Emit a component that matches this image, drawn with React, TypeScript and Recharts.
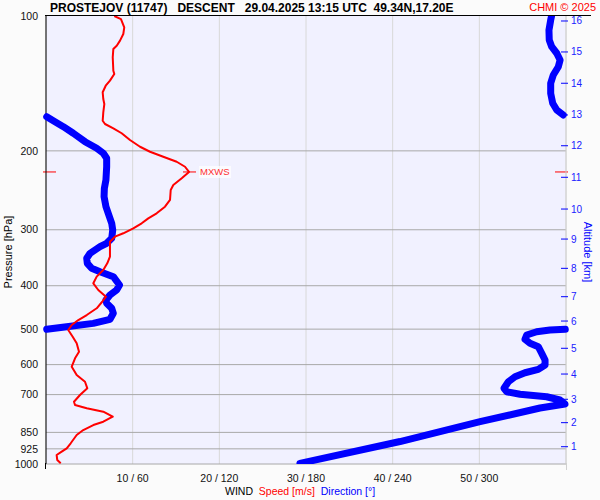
import React from "react";
import {
  CartesianGrid,
  ReferenceDot,
  ReferenceLine,
  Scatter,
  ScatterChart,
  XAxis,
  YAxis,
} from "recharts";

const FONT = '"Liberation Sans", Arial, sans-serif';
const TITLE = "PROSTEJOV (11747)   DESCENT   29.04.2025 13:15 UTC  49.34N,17.20E";

// pressure axis (hPa) and altitude axis (km at hPa)
const P_TICKS = [100, 200, 300, 400, 500, 600, 700, 850, 925, 1000];
const ALT_KM = [1, 2, 3, 4, 5, 6, 7, 8, 9, 10, 11, 12, 13, 14, 15, 16];
const ALT_P = [915, 808.6, 717, 629.8, 551.7, 479.6, 423.2, 365.8, 314.7, 269.7, 229.1, 194.8, 166.3, 141.3, 120.3, 102.6];

// speed / direction ticks
const X_TICKS = [10, 20, 30, 40, 50];
const X_LABELS = ["10 / 60", "20 / 120", "30 / 180", "40 / 240", "50 / 300"];

// wind speed profile, m/s
const SPEED_P = [
  100, 101.6, 106, 109.7, 113.5, 116.5, 118.5, 123.6, 132.5, 134.7, 139.4, 143.1, 148, 153.2, 157.2,
  164.1, 171.3, 174.2, 178.1, 182.7, 189.1, 195.8, 200.9, 206.1, 211.5, 217, 222.9, 230.2, 238.3,
  244.5, 257.4, 266.5, 275.7, 282.9, 290.2, 297.8, 305.5, 310.9, 319, 327.3, 344.5, 356.5, 368.9,
  381.8, 395.1, 408.9, 423.2, 434.9, 449.2, 465, 477.1, 489.5, 502.3, 519.9, 537.8, 561.5, 580.9,
  606.5, 633, 655.2, 677.8, 701.5, 726.1, 738.5, 751.1, 764.4, 784.3, 804.7, 818.5, 839.8, 861.6,
  899, 922.5, 938.7, 954.9, 979.7, 996.4,
];
const SPEED_V = [
  7.88, 8.65, 9.03, 8.92, 8.54, 8.16, 7.77, 7.7, 7.77, 7.88, 7.38, 6.89, 6.54, 6.61, 6.73,
  6.61, 6.54, 6.81, 7.77, 8.73, 9.69, 10.85, 12, 13.53, 15.08, 16.04, 16.5, 15.66, 14.69,
  14.39, 14.31, 13.73, 12.77, 11.8, 11.04, 10.07, 8.92, 7.96, 7.38, 7.38, 7.38, 7.07, 6.61,
  5.85, 5.46, 6.03, 6.92, 6.46, 5.85, 4.7, 3.73, 2.97, 2.57, 3.08, 3.54, 3.81, 3.35,
  2.97, 3.54, 4.5, 4.77, 3.92, 3.23, 3.35, 4.7, 6.61, 7.7, 6.61, 5.46, 4.3, 3.54,
  2.85, 2.39, 1.81, 1.23, 1.3, 1.7,
];

// wind direction, degrees; split where it wraps past 360
const DIR_LOW_P = [
  996.4, 891, 804.7, 749.9, 734.7, 719.7, 707.7, 698.9, 689.6, 677.6, 655.2, 638.6, 625.6, 614.8,
  601.3, 586.1, 566.2, 547.3, 537.8, 526.9, 515.3, 506.7, 502.3, 500.5,
];
const DIR_LOW_D = [
  175.8, 245.1, 300.5, 342, 359.3, 355.8, 346.6, 328.2, 318.9, 317.1, 320.1, 324.7, 331.6, 340.8,
  345.5, 345.5, 343.2, 340.8, 335.1, 331.6, 332.8, 339.7, 348.9, 359.5,
];
const DIR_MID_P = [
  500.5, 493.9, 485.4, 475.3, 460.9, 449.2, 437.8, 430.4, 419.5, 408.9, 398.5, 381.8, 372.2, 365.7,
  356.5, 347.4, 338.6, 327.3, 321.6, 313.5, 300.4, 290.2, 275.7, 266.5, 253.1, 242.5, 232.2, 217,
  207.8, 202.5, 197.4, 190.8, 182.7, 176.6, 172.2, 167.8,
];
const DIR_MID_D = [
  0.5, 14.3, 32.7, 44.3, 46.6, 45.5, 42, 41.5, 44.3, 48.9, 50.9, 46.6, 37.4, 31.6,
  28.6, 28.2, 30.5, 37.4, 42, 45.5, 46.2, 45.5, 43.1, 41.5, 40.2, 40.4, 41.5, 42,
  42, 39.7, 35.1, 27, 18.9, 12, 6.2, 0.5,
];
const DIR_TOP_P = [166.3, 162.1, 156.6, 148.8, 141.3, 135.4, 129.8, 125.4, 121.1, 117.1, 113.1, 107.5, 102.1, 100];
const DIR_TOP_D = [358.1, 353.6, 350.8, 349.4, 349.4, 351.2, 354.7, 355.9, 353.6, 350.1, 348.4, 348.2, 349.4, 350];

// maximum wind
const MXWS_P = 222.9;
const MXWS_V = 16.5;

const speedData = SPEED_P.map((p, i) => ({ p, v: SPEED_V[i] }));
const dirLow = DIR_LOW_P.map((p, i) => ({ p, d: DIR_LOW_D[i] }));
const dirMid = DIR_MID_P.map((p, i) => ({ p, d: DIR_MID_D[i] }));
const dirTop = DIR_TOP_P.map((p, i) => ({ p, d: DIR_TOP_D[i] }));

const noDot = () => null;

function AltTick(props: any) {
  const { x, y, payload } = props;
  const i = ALT_P.findIndex((p) => Math.abs(p - payload.value) < 0.01);
  return (
    <g>
      <line x1={x - 5} x2={x + 2} y1={y} y2={y} stroke="#0000ff" />
      <text x={x + 5} y={y} dy="0.35em" fill="#2020ff" fontSize={10} fontFamily={FONT}>
        {ALT_KM[i]}
      </text>
    </g>
  );
}

function MxwsEdges(props: any) {
  const { x1, x2, y1 } = props;
  return (
    <g>
      <line x1={x1 - 3} x2={x1 + 10} y1={y1} y2={y1} stroke="#ff0000" />
      <line x1={x2 - 11} x2={x2 + 2} y1={y1} y2={y1} stroke="#ff0000" />
    </g>
  );
}

function MxwsMark(props: any) {
  const { cx, cy } = props;
  return (
    <g>
      <line x1={cx - 6} x2={cx + 7} y1={cy} y2={cy} stroke="#ff0000" />
      <rect x={cx + 10} y={cy - 6} width={32} height={12} fill="#ffffff" opacity={0.7} />
      <text x={cx + 11} y={cy} dy="0.35em" fill="#ff3030" fontSize={9.5} fontFamily={FONT}>
        MXWS
      </text>
    </g>
  );
}

export default function App() {
  const blue = { stroke: "#0000ff", strokeWidth: 7, strokeLinecap: "round", strokeLinejoin: "round" } as any;
  return (
    <div
      style={{
        position: "absolute",
        left: 0,
        top: 0,
        width: 600,
        height: 500,
        background: "#fbfbfb",
        fontFamily: FONT,
      }}
    >
      <ScatterChart width={600} height={500} margin={{ top: 16, right: 0, bottom: 0, left: 0 }}>
        <CartesianGrid
          xAxisId="spd"
          yAxisId="p"
          horizontal={false}
          stroke="#d8d8d8"
          fill="#f1f1ff"
          fillOpacity={1}
        />
        <XAxis
          xAxisId="spd"
          type="number"
          dataKey="v"
          domain={[0, 60]}
          ticks={X_TICKS}
          interval={0}
          tickFormatter={(v) => X_LABELS[X_TICKS.indexOf(v)]}
          height={36}
          axisLine={false}
          tickLine={false}
          tickMargin={5}
          tick={{ fill: "#111", fontSize: 10.5, fontFamily: FONT }}
        />
        <XAxis xAxisId="dir" type="number" dataKey="d" domain={[0, 360]} orientation="top" height={0} hide />
        <YAxis
          yAxisId="p"
          type="number"
          dataKey="p"
          scale="log"
          domain={[100, 1000]}
          allowDataOverflow
          reversed
          ticks={P_TICKS}
          interval={0}
          width={46}
          axisLine={{ stroke: "#000" }}
          tickLine={false}
          tick={{ fill: "#111", fontSize: 10.5, fontFamily: FONT }}
        />
        <YAxis
          yAxisId="alt"
          orientation="right"
          type="number"
          dataKey="p"
          scale="log"
          domain={[100, 1000]}
          allowDataOverflow
          reversed
          ticks={ALT_P}
          interval={0}
          width={34}
          tickSize={0}
          tickMargin={0}
          axisLine={{ stroke: "#d0d0d0" }}
          tickLine={false}
          tick={<AltTick />}
        />
        {P_TICKS.filter((p) => p > 100).map((p) => (
          <ReferenceLine key={p} xAxisId="spd" yAxisId="p" y={p} stroke="#a8a8a8" />
        ))}
        <ReferenceLine xAxisId="spd" yAxisId="p" y={MXWS_P} shape={<MxwsEdges />} ifOverflow="visible" />
        <Scatter xAxisId="dir" yAxisId="p" data={dirLow} line={blue} shape={noDot} isAnimationActive={false} />
        <Scatter xAxisId="dir" yAxisId="p" data={dirMid} line={blue} shape={noDot} isAnimationActive={false} />
        <Scatter xAxisId="dir" yAxisId="p" data={dirTop} line={blue} shape={noDot} isAnimationActive={false} />
        <Scatter
          xAxisId="spd"
          yAxisId="p"
          data={speedData}
          line={{ stroke: "#ff0000", strokeWidth: 2, strokeLinejoin: "round" }}
          shape={noDot}
          isAnimationActive={false}
        />
        <ReferenceDot xAxisId="spd" yAxisId="p" x={MXWS_V} y={MXWS_P} shape={<MxwsMark />} ifOverflow="visible" />
      </ScatterChart>
      <svg
        width={600}
        height={500}
        style={{ position: "absolute", left: 0, top: 0, pointerEvents: "none" }}
        fontFamily={FONT}
      >
        <line x1={45} x2={591} y1={15.5} y2={15.5} stroke="#000" />
        <line x1={45.5} x2={45.5} y1={463} y2={469} stroke="#000" />
        <line x1={566.5} x2={566.5} y1={463} y2={470} stroke="#d0d0d0" />
        <text x={50} y={12} fontSize={12} fontWeight="bold" fill="#000" style={{ whiteSpace: "pre" }}>
          {TITLE}
        </text>
        <text x={596} y={11} fontSize={11} fill="#ff0000" textAnchor="end">
          CHMI © 2025
        </text>
        <text transform="translate(12,252) rotate(-90)" textAnchor="middle" fontSize={11} fill="#000">
          Pressure [hPa]
        </text>
        <text transform="translate(584,252) rotate(90)" textAnchor="middle" fontSize={11} fill="#0000ff">
          Altitude [km]
        </text>
        <text x={225} y={495} fontSize={10.5} fill="#000" style={{ whiteSpace: "pre" }}>
          WIND{"  "}
          <tspan fill="#ff0000">Speed [m/s]</tspan>
          {"  "}
          <tspan fill="#0000ff">Direction [°]</tspan>
        </text>
      </svg>
    </div>
  );
}
